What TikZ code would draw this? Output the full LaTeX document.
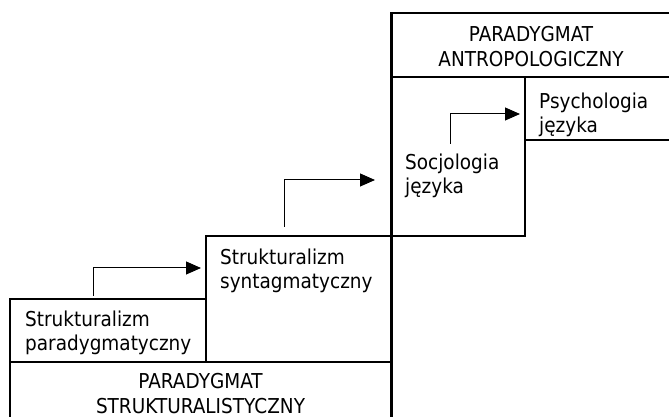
\documentclass[tikz,border=0pt]{standalone}
\usepackage{fontspec}
\setmainfont{DejaVu Sans}[FakeStretch=0.9]
\usetikzlibrary{arrows.meta}
\begin{document}
\begin{tikzpicture}[x=1pt,y=1pt,
  box/.style={draw,line width=2.2pt,inner sep=0pt,outer sep=0pt,anchor=north west},
  lbl/.style={font=\fontsize{20.5}{24}\selectfont,inner sep=0pt,align=left,anchor=base west},
  head/.style={font=\fontsize{20.5}{24.5}\selectfont,inner sep=0pt,align=center,anchor=base},
  flow/.style={line width=1pt,-{Triangle[length=15pt,width=13pt]}}]
\useasboundingbox (0,0) rectangle (669,417);
\clip (0,0) rectangle (669,417);

% stair of boxes
\node[box,minimum width=381.5pt,minimum height=80pt]  (strukt) at (10,55)    {};
\node[box,minimum width=196pt,  minimum height=63pt]  (parad)  at (10,118)   {};
\node[box,minimum width=185.5pt,minimum height=126pt] (syntag) at (206,181)  {};
\node[box,minimum width=133.5pt,minimum height=159pt] (socjo)  at (391.5,340) {};
\node[box,minimum width=160pt,  minimum height=63pt]  (psych)  at (525,340)  {};
\node[box,minimum width=290pt,  minimum height=64pt]  (antrop) at (391.5,404) {};

% labels (anchored on the baseline of their last line)
\node[head] (tstrukt) at (200.5,3.5) {PARADYGMAT\\STRUKTURALISTYCZNY};
\node[head] (tantrop) at (531,350.5) {PARADYGMAT\\ANTROPOLOGICZNY};
\node[lbl]  (tparad)  at (25,66.3)   {Strukturalizm\\paradygmatyczny};
\node[lbl]  (tsyntag) at (220,128)   {Strukturalizm\\syntagmatyczny};
\node[lbl]  (tsocjo)  at (405,223)   {Socjologia\\języka};
\node[lbl]  (tpsych)  at (539,284.3) {Psychologia\\języka};

% step arrows
\coordinate (s1) at (93,121);  \coordinate (e1) at (201,149);
\coordinate (s2) at (284,190); \coordinate (e2) at (375,237);
\coordinate (s3) at (450,273); \coordinate (e3) at (520,303);
\draw[flow] (s1) |- (e1);
\draw[flow] (s2) |- (e2);
\draw[flow] (s3) |- (e3);
\end{tikzpicture}
\end{document}
